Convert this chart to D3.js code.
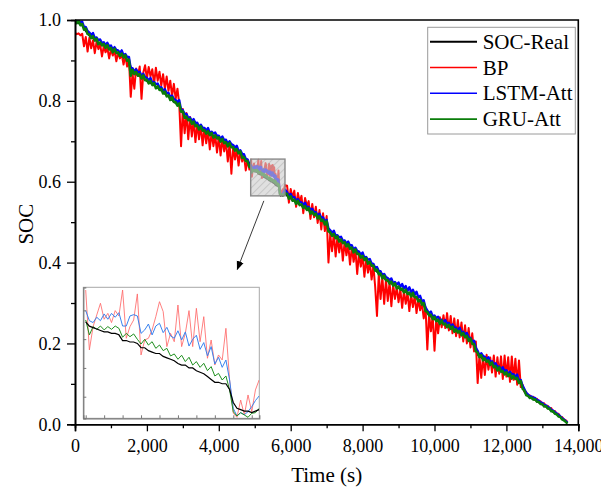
<!DOCTYPE html>
<html>
<head>
<meta charset="utf-8">
<script src="https://cdn.jsdelivr.net/npm/d3@7"></script>
<style>
  body { margin: 0; background: #fff; }
  svg { display: block; }
  text { font-family: "Liberation Serif", "Times New Roman", serif; fill: #000; }
</style>
</head>
<body>
<svg id="chart" width="601" height="492"></svg>
<script>
// ---- data -------------------------------------------------------------
// Reference SOC sampled every 100 s; model outputs every 50 s.
// The magnified window (about 4900-5840 s) has its own 20 s samples.
const timeReal = [...d3.range(0, 4801, 100), ...d3.range(5900, 13701, 100)];
const timeModel = [...d3.range(0, 4851, 50), ...d3.range(5900, 13701, 50)];

const realMain = [
  0.997,0.992,0.986,0.972,0.961,0.955,0.948,0.941,0.936,0.932,0.927,0.922,0.917,0.912,0.907,0.898,
  0.872,0.866,0.862,0.856,0.849,0.844,0.838,0.832,0.825,0.817,0.810,0.802,0.794,0.789,0.768,0.757,
  0.750,0.743,0.736,0.730,0.725,0.720,0.715,0.711,0.705,0.700,0.694,0.689,0.683,0.676,0.669,0.657,0.646,
  0.565,0.558,0.552,0.546,0.541,0.535,0.529,0.522,0.516,0.509,0.502,0.495,0.472,0.466,0.459,0.453,
  0.446,0.440,0.433,0.426,0.419,0.412,0.405,0.398,0.388,0.377,0.369,0.361,0.354,0.348,0.343,0.337,
  0.331,0.327,0.322,0.318,0.312,0.303,0.294,0.274,0.266,0.260,0.255,0.250,0.246,0.241,0.236,0.231,
  0.226,0.220,0.215,0.205,0.195,0.172,0.165,0.159,0.153,0.147,0.140,0.134,0.129,0.124,0.119,0.116,
  0.110,0.101,0.080,0.069,0.064,0.060,0.054,0.048,0.043,0.037,0.030,0.024,0.017,0.010,0.003
];

const bpMain = [
  0.968,0.965,0.967,0.962,0.966,0.935,0.958,0.922,0.956,0.930,0.950,0.918,0.946,0.928,0.940,0.910,
  0.935,0.920,0.931,0.905,0.928,0.912,0.924,0.898,0.920,0.905,0.915,0.890,0.912,0.885,0.905,0.810,
  0.868,0.830,0.880,0.862,0.885,0.805,0.870,0.888,0.855,0.884,0.860,0.878,0.842,0.882,0.850,0.872,
  0.838,0.866,0.830,0.860,0.825,0.850,0.812,0.842,0.805,0.830,0.792,0.688,0.780,0.720,0.770,0.705,
  0.760,0.712,0.752,0.698,0.745,0.705,0.740,0.690,0.733,0.695,0.728,0.680,0.722,0.688,0.716,0.672,
  0.712,0.665,0.706,0.675,0.700,0.650,0.695,0.620,0.688,0.655,0.682,0.640,0.676,0.650,0.665,0.628,
  0.655,0.630,
  0.590,0.548,0.582,0.560,0.578,0.538,0.572,0.550,0.565,0.522,0.560,0.540,0.552,0.508,0.545,0.512,
  0.538,0.498,0.530,0.482,0.522,0.478,0.515,0.400,0.470,0.428,0.472,0.415,0.465,0.425,0.458,0.405,
  0.452,0.418,0.445,0.395,0.438,0.402,0.432,0.372,0.425,0.390,0.418,0.365,0.410,0.375,0.402,0.358,
  0.392,0.340,0.268,0.372,0.310,0.365,0.298,0.358,0.305,0.352,0.292,0.346,0.310,0.340,0.302,0.334,
  0.288,0.330,0.298,0.326,0.280,0.322,0.290,0.318,0.275,0.310,0.282,0.300,0.262,0.290,0.185,0.272,
  0.230,0.268,0.182,0.262,0.225,0.265,0.240,0.270,0.238,0.275,0.232,0.268,0.225,0.262,0.218,0.258,
  0.215,0.252,0.205,0.245,0.200,0.238,0.190,0.225,0.180,0.205,0.102,0.170,0.115,0.168,0.122,0.172,
  0.135,0.165,0.128,0.170,0.118,0.166,0.125,0.168,0.112,0.170,0.118,0.166,0.105,0.168,0.110,0.162,
  0.098,0.158,0.092,0.098,0.082,0.080,0.070,0.072,0.065,0.068,0.061,0.063,0.056,0.057,0.050,0.052,
  0.045,0.046,0.039,0.040,0.032,0.033,0.026,0.026,0.019,0.018,0.012,0.010,0.006
];

const lstmMain = [
  0.998,0.999,0.998,0.995,0.996,0.983,0.983,0.973,0.969,0.963,0.968,0.955,0.957,0.950,0.952,0.943,
  0.945,0.938,0.944,0.935,0.937,0.927,0.933,0.926,0.925,0.919,0.925,0.913,0.916,0.909,0.909,0.881,
  0.881,0.873,0.878,0.870,0.872,0.862,0.867,0.859,0.857,0.851,0.857,0.845,0.847,0.841,0.843,0.833,
  0.834,0.825,0.829,0.819,0.820,0.809,0.813,0.805,0.802,0.796,0.802,0.779,0.777,0.768,0.768,0.758,
  0.759,0.750,0.755,0.745,0.746,0.736,0.741,0.734,0.733,0.727,0.733,0.721,0.724,0.719,0.722,0.713,
  0.714,0.706,0.712,0.703,0.704,0.694,0.700,0.693,0.691,0.685,0.689,0.676,0.678,0.669,0.668,0.657,
  0.655,0.644,
  0.574,0.565,0.570,0.561,0.562,0.552,0.557,0.550,0.549,0.543,0.548,0.536,0.538,0.531,0.533,0.524,
  0.525,0.516,0.521,0.511,0.512,0.501,0.506,0.485,0.480,0.474,0.479,0.466,0.468,0.462,0.464,0.454,
  0.455,0.447,0.452,0.442,0.443,0.432,0.437,0.429,0.427,0.420,0.425,0.412,0.414,0.407,0.409,0.398,
  0.397,0.387,0.389,0.379,0.379,0.368,0.372,0.364,0.362,0.356,0.361,0.349,0.352,0.346,0.351,0.340,
  0.347,0.336,0.342,0.330,0.339,0.327,0.333,0.321,0.328,0.314,0.318,0.304,0.307,0.289,0.282,0.275,
  0.279,0.267,0.269,0.263,0.266,0.257,0.259,0.252,0.258,0.249,0.251,0.241,0.247,0.240,0.239,0.233,
  0.239,0.227,0.229,0.223,0.226,0.215,0.214,0.204,0.207,0.190,0.182,0.171,0.176,0.169,0.167,0.161,
  0.166,0.154,0.156,0.149,0.151,0.142,0.143,0.135,0.141,0.132,0.134,0.124,0.130,0.124,0.124,0.118,
  0.123,0.109,0.110,0.096,0.087,0.078,0.074,0.069,0.069,0.065,0.065,0.060,0.059,0.054,0.053,0.048,
  0.047,0.043,0.041,0.036,0.034,0.030,0.027,0.023,0.020,0.015,0.012,0.008,0.004
];

const gruMain = [
  0.999,0.992,0.998,0.987,0.990,0.976,0.979,0.965,0.964,0.955,0.960,0.949,0.954,0.940,0.945,0.937,
  0.941,0.931,0.938,0.927,0.931,0.920,0.929,0.918,0.920,0.911,0.917,0.907,0.913,0.899,0.902,0.862,
  0.877,0.866,0.872,0.862,0.866,0.855,0.863,0.851,0.852,0.843,0.849,0.839,0.844,0.831,0.836,0.827,
  0.830,0.818,0.823,0.811,0.814,0.802,0.809,0.797,0.797,0.788,0.794,0.773,0.774,0.758,0.761,0.752,
  0.755,0.743,0.749,0.737,0.740,0.729,0.737,0.726,0.728,0.719,0.725,0.715,0.721,0.709,0.715,0.707,
  0.710,0.699,0.706,0.695,0.698,0.687,0.696,0.685,0.686,0.677,0.681,0.670,0.675,0.659,0.661,0.651,
  0.651,0.637,
  0.570,0.558,0.564,0.553,0.556,0.545,0.553,0.542,0.544,0.535,0.540,0.530,0.535,0.521,0.526,0.518,
  0.521,0.509,0.515,0.503,0.506,0.494,0.502,0.477,0.475,0.466,0.471,0.460,0.465,0.452,0.457,0.448,
  0.451,0.440,0.446,0.434,0.437,0.425,0.433,0.421,0.422,0.412,0.417,0.406,0.411,0.397,0.402,0.392,
  0.393,0.380,0.383,0.371,0.373,0.361,0.368,0.356,0.357,0.348,0.353,0.343,0.349,0.336,0.341,0.333,
  0.336,0.326,0.333,0.322,0.326,0.316,0.325,0.314,0.315,0.304,0.308,0.296,0.300,0.280,0.278,0.269,
  0.271,0.260,0.266,0.255,0.259,0.248,0.257,0.247,0.249,0.240,0.246,0.236,0.242,0.229,0.235,0.227,
  0.231,0.220,0.226,0.215,0.219,0.206,0.212,0.199,0.198,0.181,0.177,0.166,0.171,0.158,0.163,0.155,
  0.158,0.147,0.153,0.141,0.144,0.133,0.141,0.130,0.132,0.123,0.129,0.119,0.125,0.113,0.120,0.112,
  0.115,0.102,0.107,0.088,0.084,0.072,0.071,0.065,0.066,0.061,0.062,0.056,0.056,0.050,0.050,0.044,
  0.045,0.039,0.039,0.032,0.032,0.026,0.025,0.019,0.018,0.012,0.010,0.006,0.002
];

const timeZoom = d3.range(4900, 5841, 20);

const realZoom = [
  0.632,0.629,0.628,0.627,0.626,0.625,0.625,0.624,0.624,0.623,0.619,0.619,0.618,0.618,0.617,0.614,
  0.614,0.612,0.611,0.610,0.610,0.608,0.607,0.606,0.605,0.603,0.602,0.602,0.600,0.600,0.598,0.597,
  0.596,0.594,0.592,0.590,0.590,0.589,0.589,0.585,0.576,0.572,0.571,0.570,0.570,0.569,0.570,0.571
];
const bpZoom = [
  0.6541,0.6125,0.6287,0.6368,0.6449,0.6338,0.6379,0.6315,0.6398,0.6361,0.6541,0.6206,0.6287,0.6333,0.6514,0.6090,
  0.6194,0.6206,0.6264,0.6356,0.6460,0.6391,0.6148,0.6240,0.6182,0.6437,0.6148,0.6240,0.6398,0.6148,0.6414,0.6182,
  0.6356,0.6067,0.6194,0.6020,0.6090,0.6055,0.6275,0.5916,0.5685,0.5657,0.5777,0.5673,0.5812,0.5696,0.5847,0.5916
];
const lstmZoom = [
  0.6398,0.6328,0.6315,0.6352,0.6328,0.6375,0.6338,0.6379,0.6352,0.6384,0.6291,0.6291,0.6361,0.6370,0.6361,0.6240,
  0.6264,0.6305,0.6229,0.6291,0.6310,0.6245,0.6282,0.6222,0.6206,0.6258,0.6194,0.6250,0.6152,0.6199,0.6227,0.6129,
  0.6176,0.6083,0.6148,0.6027,0.6074,0.6004,0.6055,0.5916,0.5719,0.5666,0.5689,0.5675,0.5696,0.5731,0.5773,0.5805
];
const gruZoom = [
  0.6333,0.6229,0.6287,0.6268,0.6291,0.6264,0.6287,0.6268,0.6291,0.6275,0.6213,0.6240,0.6217,0.6236,0.6199,0.6166,
  0.6199,0.6159,0.6182,0.6136,0.6159,0.6120,0.6136,0.6083,0.6097,0.6060,0.6088,0.6044,0.6074,0.6020,0.6044,0.6004,
  0.6032,0.5981,0.6009,0.5944,0.5962,0.5916,0.5944,0.5847,0.5696,0.5666,0.5689,0.5673,0.5657,0.5685,0.5689,0.5719
];

// Window shown magnified in the inset: [time0, time1] x [soc0, soc1]
const zoomTime = [4887, 5841];
const zoomSoc = [0.565, 0.656];

const seriesNames = ["SOC-Real", "BP", "LSTM-Att", "GRU-Att"];
const xTickValues = [0, 2000, 4000, 6000, 8000, 10000, 12000, 14000];
const xMinorValues = [1000, 3000, 5000, 7000, 9000, 11000, 13000];
const yTickValues = [0, 0.2, 0.4, 0.6, 0.8, 1.0];
const yMinorValues = [0.1, 0.3, 0.5, 0.7, 0.9];
const insetXTicks = [4900, 5000, 5100, 5200, 5300, 5400, 5500, 5600, 5700, 5800];
const insetYTicks = [0.58, 0.60, 0.62, 0.64];

// ---- styles -----------------------------------------------------------
const mainColors = ["#000000", "#ff0000", "#0000ff", "#0a7d0a"];
const mainWidths = [1.6, 2.0, 2.3, 2.5];
const insetColors = ["#000000", "#ff6a6a", "#3a82ee", "#1f8f1f"];

// ---- layout -----------------------------------------------------------
const plot = { left: 75, right: 578.3, top: 20, bottom: 424.3 };
const inset = { left: 83.3, right: 259.3, top: 287.3, bottom: 418.3 };

const svg = d3.select("#chart");
const x = d3.scaleLinear().domain([0, 14000]).range([plot.left, plot.right]);
const y = d3.scaleLinear().domain([0, 1]).range([plot.bottom, plot.top]);

function merge(times, mainVals, zoomVals) {
  const pts = times.map((t, i) => ({ t, v: mainVals[i] }))
    .concat(timeZoom.map((t, i) => ({ t, v: zoomVals[i] })));
  return pts.filter(d => d.v != null).sort((a, b) => a.t - b.t);
}
const series = [
  merge(timeReal, realMain, realZoom),
  merge(timeModel, bpMain, bpZoom),
  merge(timeModel, lstmMain, lstmZoom),
  merge(timeModel, gruMain, gruZoom)
];
const zoomSeries = [realZoom, bpZoom, lstmZoom, gruZoom];

const defs = svg.append("defs");
defs.append("clipPath").attr("id", "plotClip").append("rect")
  .attr("x", plot.left).attr("y", plot.top)
  .attr("width", plot.right - plot.left).attr("height", plot.bottom - plot.top);
defs.append("clipPath").attr("id", "insetClip").append("rect")
  .attr("x", inset.left).attr("y", inset.top)
  .attr("width", inset.right - inset.left).attr("height", inset.bottom - inset.top);

const hatch = defs.append("pattern").attr("id", "hatch")
  .attr("patternUnits", "userSpaceOnUse").attr("width", 5).attr("height", 5)
  .attr("patternTransform", "rotate(45)");
hatch.append("rect").attr("width", 5).attr("height", 5).attr("fill", "rgba(205,205,205,0.62)");
hatch.append("line").attr("x1", 0).attr("y1", 0).attr("x2", 0).attr("y2", 5)
  .attr("stroke", "rgba(150,150,150,0.7)").attr("stroke-width", 1);

defs.append("marker").attr("id", "arrowHead")
  .attr("viewBox", "0 0 10 10").attr("refX", 9).attr("refY", 5)
  .attr("markerWidth", 9).attr("markerHeight", 9).attr("markerUnits", "userSpaceOnUse")
  .attr("orient", "auto")
  .append("path").attr("d", "M0,1 L10,5 L0,9 Z").attr("fill", "#000");

// ---- main curves ------------------------------------------------------
const line = d3.line().x(d => x(d.t)).y(d => y(d.v));
const curves = svg.append("g").attr("clip-path", "url(#plotClip)");
series.forEach((s, i) => {
  curves.append("path").datum(s)
    .attr("d", line)
    .attr("fill", "none")
    .attr("stroke", mainColors[i])
    .attr("stroke-width", mainWidths[i])
    .attr("stroke-linejoin", "round");
});

// ---- zoom window marker -----------------------------------------------
svg.append("rect")
  .attr("x", x(zoomTime[0])).attr("y", y(zoomSoc[1]))
  .attr("width", x(zoomTime[1]) - x(zoomTime[0]))
  .attr("height", y(zoomSoc[0]) - y(zoomSoc[1]))
  .attr("fill", "url(#hatch)")
  .attr("stroke", "#8a8a8a").attr("stroke-width", 1.4);

// arrow from the window marker to the inset
const boxMidX = (x(zoomTime[0]) + x(zoomTime[1])) / 2;
svg.append("line")
  .attr("x1", boxMidX - 4).attr("y1", y(zoomSoc[0]) + 5)
  .attr("x2", inset.left + 154).attr("y2", inset.top - 18)
  .attr("stroke", "#222").attr("stroke-width", 0.9)
  .attr("marker-end", "url(#arrowHead)");

// ---- inset --------------------------------------------------------------
const ix = d3.scaleLinear().domain(zoomTime).range([inset.left, inset.right]);
const iy = d3.scaleLinear().domain(zoomSoc).range([inset.bottom, inset.top]);
const insetLine = d3.line().x(d => ix(d.t)).y(d => iy(d.v));

svg.append("rect")
  .attr("x", inset.left).attr("y", inset.top)
  .attr("width", inset.right - inset.left).attr("height", inset.bottom - inset.top)
  .attr("fill", "#fff").attr("stroke", "#a8a8a8").attr("stroke-width", 1);

const insetCurves = svg.append("g").attr("clip-path", "url(#insetClip)");
[1, 2, 3, 0].forEach(i => {
  const pts = timeZoom.map((t, k) => ({ t, v: zoomSeries[i][k] }));
  insetCurves.append("path").datum(pts)
    .attr("d", insetLine)
    .attr("fill", "none")
    .attr("stroke", insetColors[i])
    .attr("stroke-width", i === 0 ? 1.2 : 1)
    .attr("stroke-opacity", i === 1 ? 0.85 : 1);
});

const insetAxisX = svg.append("g").attr("transform", `translate(0,${inset.bottom})`)
  .call(d3.axisBottom(ix).tickValues(insetXTicks).tickSize(-3).tickFormat(""));
const insetAxisY = svg.append("g").attr("transform", `translate(${inset.left},0)`)
  .call(d3.axisLeft(iy).tickValues(insetYTicks).tickSize(-3).tickFormat(""));
[insetAxisX, insetAxisY].forEach(g => {
  g.selectAll("path").attr("stroke", "#777").attr("stroke-width", 1.2);
  g.selectAll("line").attr("stroke", "#777");
});

// ---- axes ---------------------------------------------------------------
const fmtX = d3.format(",");
const axX = svg.append("g").attr("transform", `translate(0,${plot.bottom})`)
  .call(d3.axisBottom(x).tickValues(xTickValues).tickSize(7).tickPadding(8).tickFormat(fmtX));
const axXm = svg.append("g").attr("transform", `translate(0,${plot.bottom})`)
  .call(d3.axisBottom(x).tickValues(xMinorValues).tickSize(4).tickFormat(""));
const axY = svg.append("g").attr("transform", `translate(${plot.left},0)`)
  .call(d3.axisLeft(y).tickValues(yTickValues).tickSize(8).tickPadding(6).tickFormat(d3.format(".1f")));
const axYm = svg.append("g").attr("transform", `translate(${plot.left},0)`)
  .call(d3.axisLeft(y).tickValues(yMinorValues).tickSize(4).tickFormat(""));

[axX, axXm, axY, axYm].forEach(g => {
  g.selectAll("path.domain").attr("stroke", "#000").attr("stroke-width", 1.6);
  g.selectAll(".tick line").attr("stroke", "#000").attr("stroke-width", 1.3);
  g.selectAll("text").style("font-family", '"Liberation Serif", "Times New Roman", serif')
    .attr("font-size", 18).attr("fill", "#000");
});

// top and right frame
svg.append("path")
  .attr("d", `M${plot.left},${plot.top}H${plot.right}V${plot.bottom}`)
  .attr("fill", "none").attr("stroke", "#000").attr("stroke-width", 1.6);

// axis titles
svg.append("text")
  .attr("x", (plot.left + plot.right) / 2).attr("y", 482)
  .attr("text-anchor", "middle").attr("font-size", 21)
  .text("Time (s)");
svg.append("text")
  .attr("transform", `translate(33,${(plot.top + plot.bottom) / 2 + 2}) rotate(-90)`)
  .attr("text-anchor", "middle").attr("font-size", 21)
  .text("SOC");

// ---- legend -------------------------------------------------------------
const legend = svg.append("g");
legend.append("rect")
  .attr("x", 427.7).attr("y", 27.3).attr("width", 147.6).attr("height", 106.7)
  .attr("fill", "#fff").attr("stroke", "#9a9a9a").attr("stroke-width", 1);
seriesNames.forEach((name, i) => {
  const ly = 41.7 + i * 25.8;
  legend.append("line")
    .attr("x1", 430).attr("x2", 477).attr("y1", ly).attr("y2", ly)
    .attr("stroke", mainColors[i]).attr("stroke-width", i === 0 ? 2 : 1.6);
  legend.append("text")
    .attr("x", 482.7).attr("y", ly + 7).attr("font-size", 21)
    .text(name);
});
</script>
</body>
</html>
